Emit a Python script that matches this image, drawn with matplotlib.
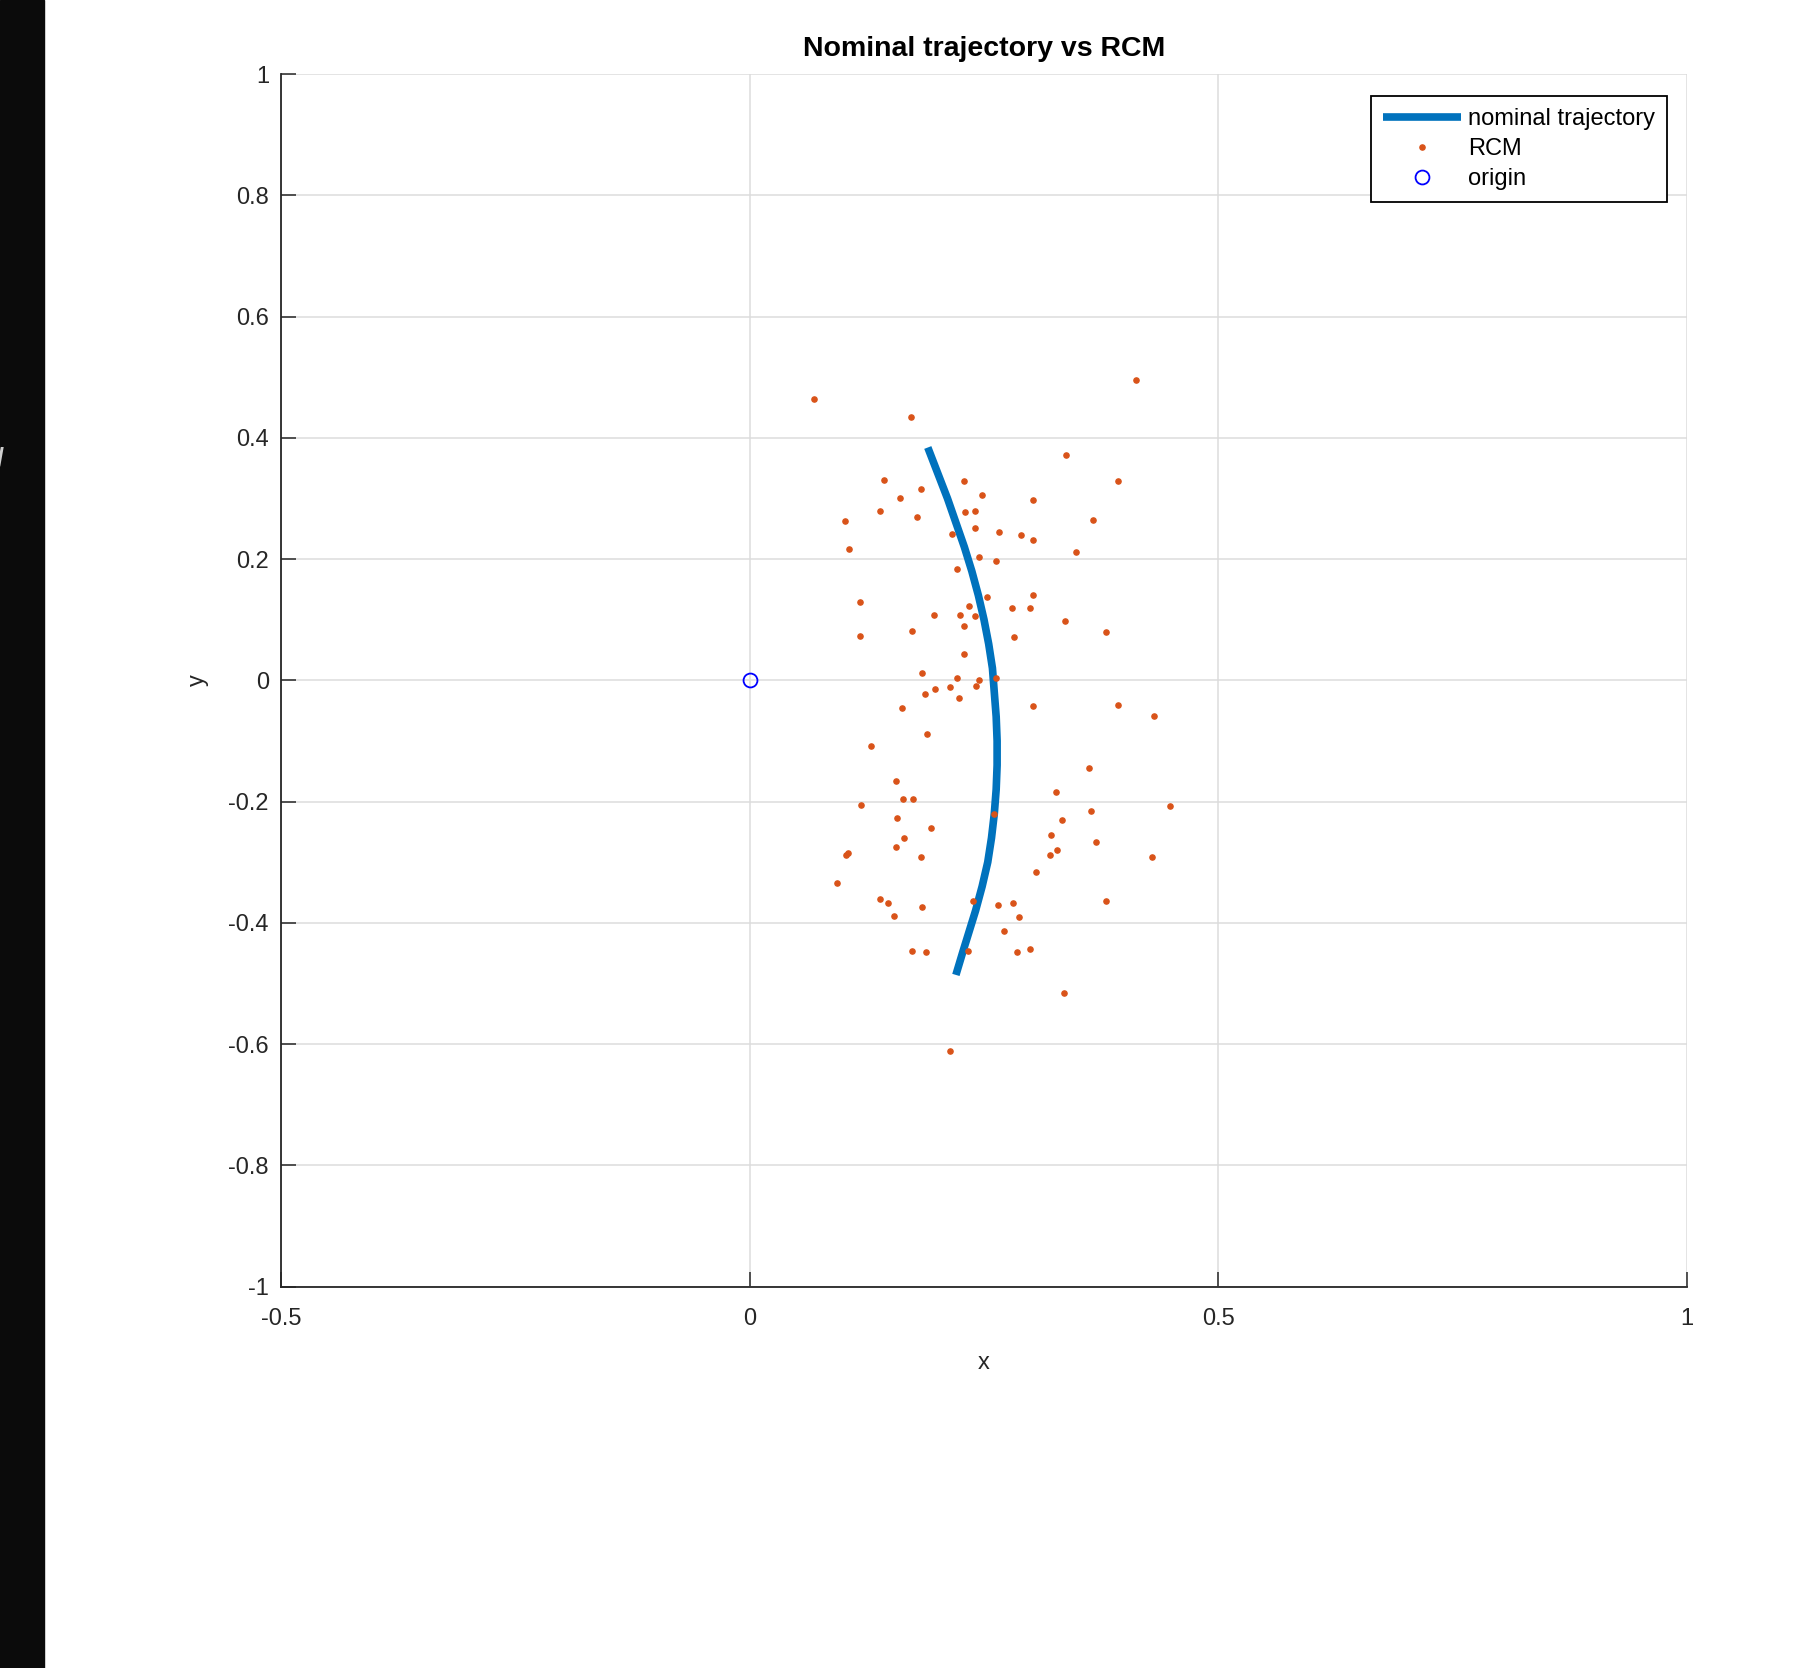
import matplotlib
matplotlib.use('Agg')
import matplotlib.pyplot as plt
from matplotlib.patches import Rectangle

plt.rcParams['font.family'] = ['Liberation Sans', 'DejaVu Sans']

# nominal trajectory
traj_x = [0.190, 0.201, 0.211, 0.220, 0.229, 0.237, 0.244, 0.250, 0.255, 0.259,
          0.261, 0.263, 0.264, 0.264, 0.263, 0.261, 0.258, 0.254, 0.248, 0.241,
          0.233, 0.227, 0.220]
traj_y = [0.384, 0.34, 0.30, 0.26, 0.22, 0.18, 0.14, 0.10, 0.06, 0.02,
          -0.02, -0.06, -0.10, -0.14, -0.18, -0.22, -0.26, -0.30, -0.34, -0.38,
          -0.42, -0.45, -0.486]

# RCM points
rcm_x = [0.068, 0.172, 0.412, 0.338, 0.393, 0.143, 0.229, 0.183, 0.160, 0.248,
         0.302, 0.139, 0.179, 0.230, 0.240, 0.102, 0.366, 0.240, 0.216, 0.266,
         0.290, 0.302, 0.106, 0.348, 0.245, 0.263, 0.221, 0.302, 0.253, 0.118,
         0.280, 0.299, 0.234, 0.197, 0.224, 0.240, 0.336, 0.229, 0.118, 0.173,
         0.380, 0.282, 0.229, 0.184, 0.221, 0.245, 0.263, 0.198, 0.214, 0.241,
         0.187, 0.223, 0.162, 0.302, 0.393, 0.431, 0.189, 0.129,
         0.156, 0.362, 0.327, 0.119, 0.163, 0.174, 0.364, 0.449, 0.333, 0.157,
         0.193, 0.321, 0.165, 0.370, 0.156, 0.328, 0.105, 0.103, 0.183, 0.320,
         0.429, 0.306, 0.093, 0.139, 0.147, 0.184, 0.154, 0.238, 0.265, 0.281,
         0.287, 0.380, 0.271, 0.173, 0.188, 0.233, 0.285, 0.299, 0.335, 0.214,
         0.261]
rcm_y = [0.464, 0.435, 0.496, 0.372, 0.328, 0.331, 0.329, 0.316, 0.301, 0.305,
         0.297, 0.279, 0.270, 0.277, 0.280, 0.263, 0.264, 0.252, 0.241, 0.244,
         0.240, 0.232, 0.216, 0.211, 0.204, 0.197, 0.184, 0.140, 0.138, 0.129,
         0.120, 0.120, 0.123, 0.107, 0.107, 0.106, 0.097, 0.089, 0.073, 0.081,
         0.080, 0.071, 0.044, 0.012, 0.004, 0.001, 0.004, -0.015, -0.011, -0.010,
         -0.022, -0.029, -0.046, -0.043, -0.041, -0.059, -0.089, -0.108,
         -0.166, -0.145, -0.185, -0.206, -0.196, -0.196, -0.215, -0.208, -0.231, -0.227,
         -0.244, -0.255, -0.260, -0.266, -0.275, -0.280, -0.285, -0.288, -0.292, -0.288,
         -0.292, -0.317, -0.335, -0.361, -0.367, -0.374, -0.389, -0.364, -0.371, -0.368,
         -0.391, -0.364, -0.414, -0.447, -0.448, -0.447, -0.448, -0.444, -0.515, -0.611,
         -0.221]

origin_x = [0]
origin_y = [0]

fig = plt.figure(figsize=(18.16, 16.68), dpi=100)
fig.patches.append(Rectangle((0, 0), 44/1816, 1, transform=fig.transFigure,
                             color='#0b0b0b', zorder=0))
fig.text(0.0, 1 - 458/1668, '/', color='#d0d0d0', fontsize=18, fontweight='bold',
         ha='center', va='center')

ax = fig.add_axes([0.1550, 0.2287, 0.7737, 0.7269])

ax.plot(traj_x, traj_y, color='#0072BD', lw=5.5, solid_capstyle='butt',
        solid_joinstyle='round', label='nominal trajectory', zorder=3)
ax.plot(rcm_x, rcm_y, '.', color='#D95319', markersize=7.5, label='RCM', zorder=4)
ax.plot(origin_x, origin_y, 'o', mfc='none', mec='#0000FF', markersize=10, mew=1.3,
        label='origin', zorder=5)

ax.set_xlim(-0.5, 1)
ax.set_ylim(-1, 1)
ax.set_xticks([-0.5, 0, 0.5, 1])
ax.set_xticklabels(['-0.5', '0', '0.5', '1'])
ax.set_yticks([-1, -0.8, -0.6, -0.4, -0.2, 0, 0.2, 0.4, 0.6, 0.8, 1])
ax.set_yticklabels(['-1', '-0.8', '-0.6', '-0.4', '-0.2', '0', '0.2', '0.4', '0.6', '0.8', '1'])

ax.grid(True, color='#dcdcdc', lw=1.1)
ax.set_axisbelow(True)
for s in ['top', 'right']:
    ax.spines[s].set_visible(False)
for s in ['left', 'bottom']:
    ax.spines[s].set_color('#262626')
    ax.spines[s].set_linewidth(1.3)

ax.tick_params(axis='both', direction='in', length=11, width=1.1, colors='#262626',
               labelsize=17, labelcolor='#262626')
ax.tick_params(axis='x', pad=15.5)
ax.tick_params(axis='y', pad=9)

ax.set_title('Nominal trajectory vs RCM', fontsize=20.5, fontweight='bold', pad=13)
ax.set_xlabel('x', fontsize=17, color='#262626', labelpad=16)
ax.set_ylabel('y', fontsize=17, color='#262626', labelpad=14)

leg = ax.legend(loc='upper right', bbox_to_anchor=(0.9859, 0.9818), borderaxespad=0,
                fontsize=17, frameon=True, fancybox=False, framealpha=1,
                edgecolor='black', handlelength=3.3, handletextpad=0.3,
                borderpad=0.5, labelspacing=0.35)
leg.get_frame().set_linewidth(1.3)

fig.savefig('out.png', dpi=100, facecolor='white')
